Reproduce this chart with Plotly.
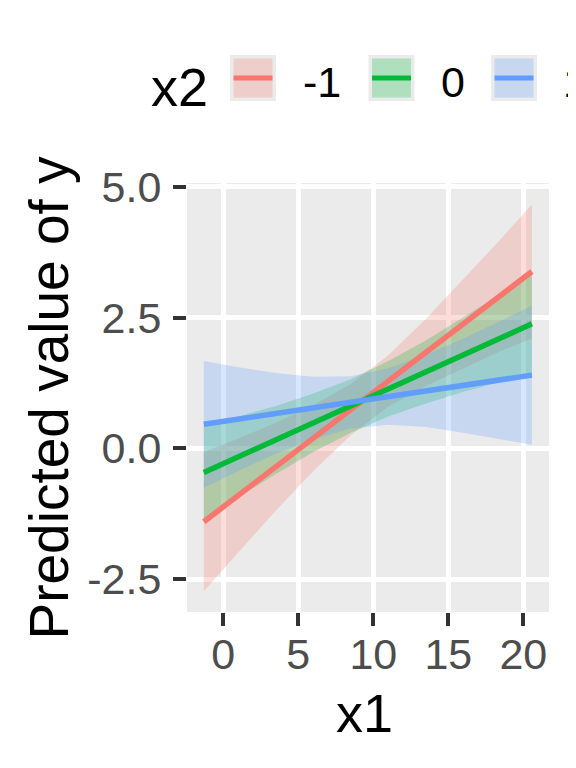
import plotly.graph_objects as go

# ---- data ----
x2_levels = ["-1", "0", "1"]
line_colors = ["#F8766D", "#00BA38", "#619CFF"]
ribbon_colors = ["rgba(248,118,109,0.25)", "rgba(0,186,56,0.25)", "rgba(97,156,255,0.25)"]

# fitted lines (straight, so only the end points)
fit_x = [-1.3, 20.57]
fit_red = [-1.40, 3.38]
fit_green = [-0.46, 2.38]
fit_blue = [0.46, 1.40]

# confidence bands, read at these x1 values
band_x = [-1.3, 1, 3.5, 6, 8.5, 11, 13.5, 16, 18.5, 20.57]
red_lo = [-2.73, -1.99, -1.19, -0.43, 0.25, 0.80, 1.19, 1.53, 1.86, 2.10]
red_hi = [-0.07, 0.19, 0.49, 0.83, 1.23, 1.78, 2.47, 3.23, 4.00, 4.66]
green_lo = [-1.36, -0.93, -0.49, -0.07, 0.30, 0.61, 0.86, 1.08, 1.27, 1.42]
green_hi = [0.44, 0.61, 0.81, 1.05, 1.32, 1.67, 2.06, 2.50, 2.95, 3.34]
blue_lo = [-0.75, -0.43, -0.10, 0.17, 0.38, 0.45, 0.41, 0.30, 0.18, 0.07]
blue_hi = [1.67, 1.55, 1.44, 1.37, 1.38, 1.53, 1.79, 2.10, 2.44, 2.73]

x_ticks = [0, 5, 10, 15, 20]
x_ticktext = ["0", "5", "10", "15", "20"]
y_ticks = [-2.5, 0, 2.5, 5]
y_ticktext = ["-2.5", "0.0", "2.5", "5.0"]

fits = [fit_red, fit_green, fit_blue]
bands = [(red_lo, red_hi), (green_lo, green_hi), (blue_lo, blue_hi)]

# ---- page geometry (screen pixels; the page body adds an 8px margin) ----
OFF = 8
W, H = 576 - OFF, 768 - OFF
L, R, T, B = 187, 549, 183, 612
FONT = "Liberation Sans, Arial, sans-serif"


def px(xp):
    return (xp - L) / (R - L)


def py(yp):
    return (B - yp) / (B - T)


fig = go.Figure()

# ribbons first
for (lo, hi), col in zip(bands, ribbon_colors):
    fig.add_trace(go.Scatter(
        x=band_x + band_x[::-1],
        y=hi + lo[::-1],
        fill="toself",
        fillcolor=col,
        line=dict(width=0),
        mode="lines",
        hoverinfo="skip",
        showlegend=False,
    ))

# then the lines
for fy, col, name in zip(fits, line_colors, x2_levels):
    fig.add_trace(go.Scatter(
        x=fit_x,
        y=fy,
        mode="lines",
        line=dict(color=col, width=5.5),
        name=name,
        showlegend=False,
    ))

# ---- hand-made legend in ggplot style ----
key_left = [230, 368.5, 491]
key_size = 46
key_top = 55
label_left = [302, 440, 562.4]
shapes = []
annotations = []
for kl, lc, rc in zip(key_left, line_colors, ribbon_colors):
    shapes.append(dict(type="rect", xref="paper", yref="paper",
                       x0=px(kl), x1=px(kl + key_size),
                       y0=py(key_top + key_size), y1=py(key_top),
                       fillcolor="#EBEBEB", line=dict(width=0), layer="above"))
    shapes.append(dict(type="rect", xref="paper", yref="paper",
                       x0=px(kl + 3.5), x1=px(kl + key_size - 3.5),
                       y0=py(key_top + key_size - 3.5), y1=py(key_top + 3.5),
                       fillcolor=rc, line=dict(width=0), layer="above"))
    shapes.append(dict(type="line", xref="paper", yref="paper",
                       x0=px(kl + 3.5), x1=px(kl + key_size - 3.5),
                       y0=py(key_top + key_size / 2), y1=py(key_top + key_size / 2),
                       line=dict(color=lc, width=5), layer="above"))

for lab, ll in zip(x2_levels, label_left):
    annotations.append(dict(text=lab, xref="paper", yref="paper",
                            x=px(ll), y=py(82), xanchor="left", yanchor="middle",
                            showarrow=False, borderpad=0,
                            font=dict(family=FONT, size=43, color="black")))

annotations.append(dict(text="x2", xref="paper", yref="paper",
                        x=px(150), y=py(87), xanchor="left", yanchor="middle",
                        showarrow=False, borderpad=0,
                        font=dict(family=FONT, size=54, color="black")))

# axis titles
annotations.append(dict(text="x1", xref="paper", yref="paper",
                        x=0.49, y=py(713), xanchor="center", yanchor="middle",
                        showarrow=False, borderpad=0,
                        font=dict(family=FONT, size=54, color="black")))
annotations.append(dict(text="Predicted value of y", xref="paper", yref="paper",
                        x=px(48), y=0.5, xanchor="center", yanchor="middle",
                        textangle=-90, showarrow=False, borderpad=0,
                        font=dict(family=FONT, size=55, color="black")))

axis_common = dict(
    showgrid=True, gridcolor="white", gridwidth=5,
    zeroline=False, showline=False,
    ticks="outside", ticklen=13, tickwidth=4, tickcolor="#333333",
    tickfont=dict(family=FONT, size=43, color="#4D4D4D"),
    automargin=False, fixedrange=True,
)

fig.update_layout(
    width=W, height=H,
    margin=dict(l=L - OFF, r=576 - R, t=T - OFF, b=768 - B, pad=0),
    paper_bgcolor="white",
    plot_bgcolor="#EBEBEB",
    showlegend=False,
    shapes=shapes,
    annotations=annotations,
    xaxis=dict(range=[-2.42, 21.71], tickvals=x_ticks, ticktext=x_ticktext,
               ticklabelstandoff=-9, **axis_common),
    yaxis=dict(range=[-3.125, 5.07], tickvals=y_ticks, ticktext=y_ticktext,
               ticklabelstandoff=3, **axis_common),
)

fig.write_html("out.html")
